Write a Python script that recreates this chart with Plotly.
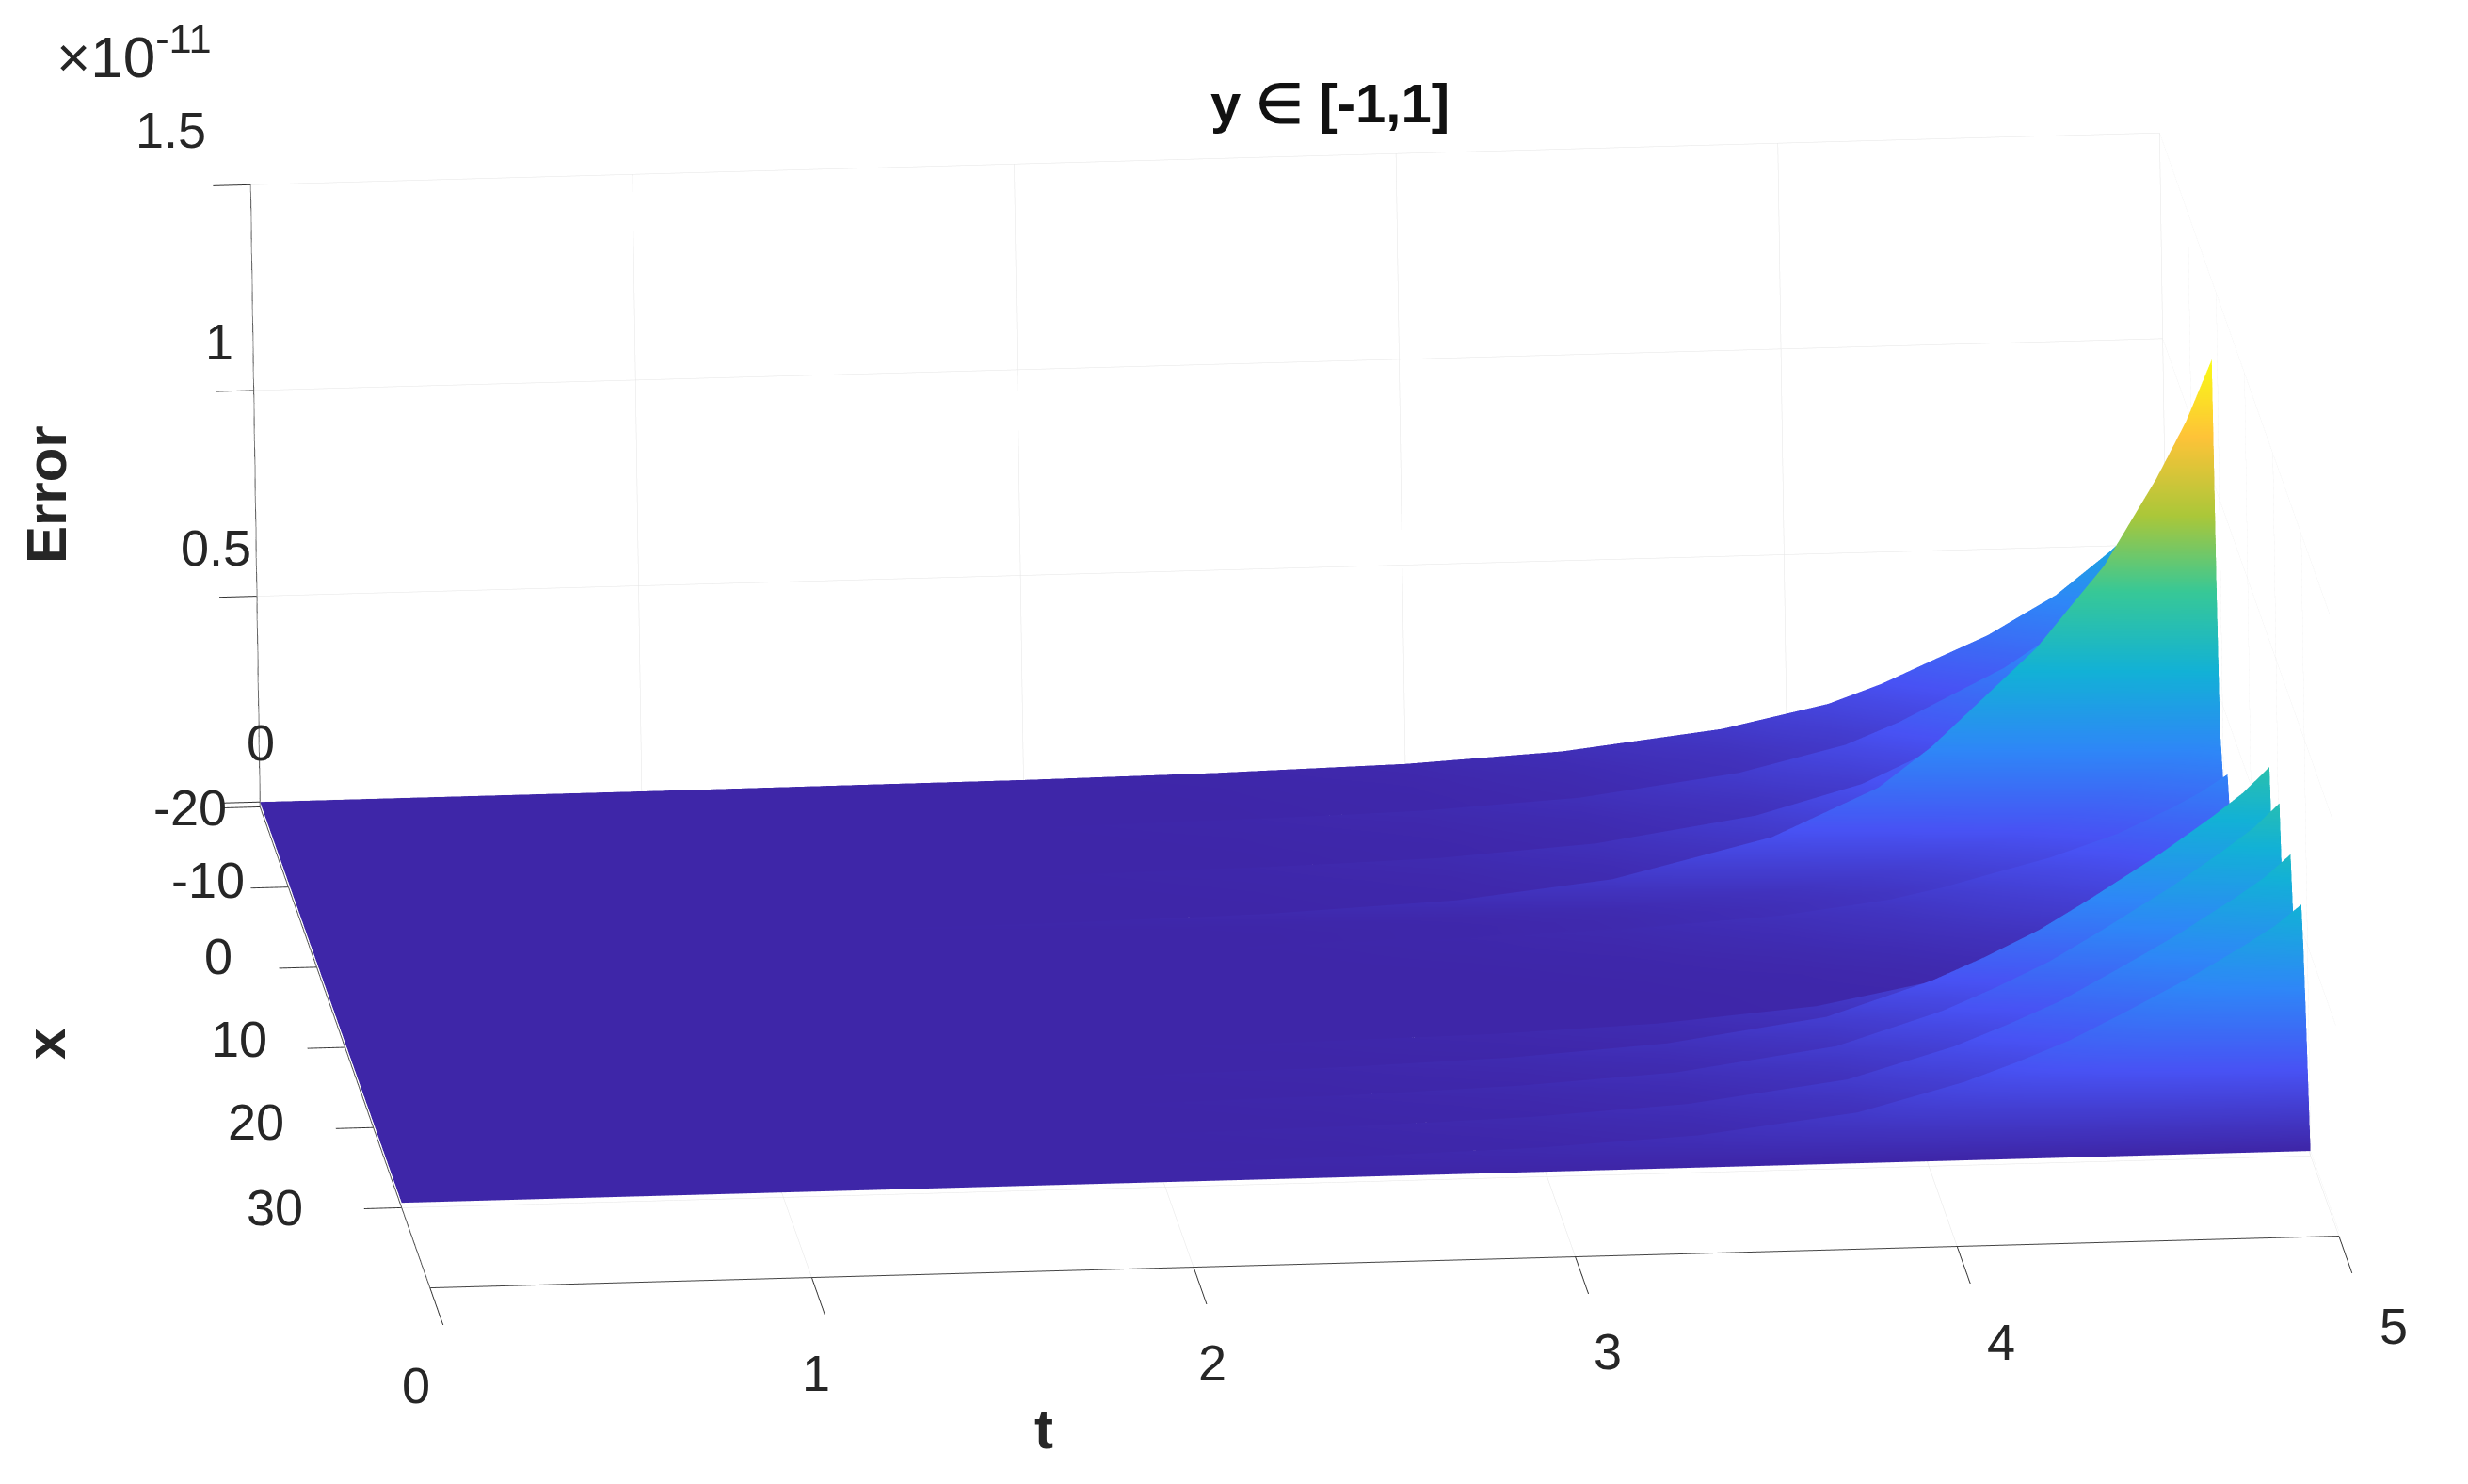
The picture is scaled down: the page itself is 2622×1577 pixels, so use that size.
import numpy as np
import plotly.graph_objects as go

t_vals=[0,1,2,2.5,3,3.41,3.83,4.11,4.25,4.39,4.53,4.62,4.71,4.78,4.85,4.93,5]
x_vals=[-20,-19,-18,-16,-14.5,-14,-13,-12,-10,-8.5,-8,-7,-6,-4,-2.5,-2,-1.5,-1,0,1,1.5,2,3,5,7,9,13,13.5,14.5,16,16.5,17,17.5,18.5,20,20.5,21,22,23.8,24.3,25,26,27.5,28,28.5,29,29.5,30]
# Error (in units of 1e-11): one row per t value, one column per x value
z_by_t=[
[0]*48,
[.0006,.0005,.0004,.0003,.0003,.0007,.0006,.0004,.0003,.0003,.0008,.0006,.0005,.0003,.0003,.0013,.0008,.0004,.0003,.0003,.0004,.0003,.0002,.0001,.0001,.0001,.0000,.0004,.0003,.0001,.0001,.0007,.0005,.0004,.0002,.0007,.0005,.0004,.0002,.0006,.0005,.0003,.0002,.0006,.0005,.0003,.0002,0],
[.0031,.0025,.002,.0015,.0013,.0035,.0028,.0021,.0015,.0013,.004,.0031,.0024,.0016,.0013,.0065,.0038,.0021,.0015,.0014,.0018,.0015,.0012,.0007,.0004,.0003,.0002,.0024,.0017,.0008,.0007,.0041,.0031,.0022,.0013,.004,.003,.0022,.0013,.0037,.0028,.002,.0013,.0034,.0028,.002,.001,0],
[.0074,.006,.0048,.0036,.0031,.0084,.0066,.005,.0036,.003,.0096,.0074,.0058,.0038,.0031,.0156,.009,.005,.0036,.0034,.0043,.0036,.0029,.0017,.001,.0006,.0005,.006,.0042,.0021,.0018,.0102,.0078,.0054,.0033,.0099,.0075,.0054,.0033,.0092,.0069,.005,.0033,.0084,.0071,.005,.0026,0],
[.017,.014,.011,.008,.007,.02,.015,.012,.008,.007,.022,.017,.013,.009,.007,.036,.021,.012,.008,.008,.010,.008,.007,.004,.002,.001,.001,.014,.010,.005,.004,.024,.019,.013,.008,.024,.018,.013,.008,.022,.017,.012,.008,.020,.017,.012,.006,0],
[.037,.030,.024,.018,.015,.041,.032,.025,.018,.015,.047,.037,.028,.019,.015,.077,.044,.025,.018,.017,.021,.018,.014,.008,.005,.003,.002,.028,.020,.010,.008,.048,.036,.025,.015,.046,.035,.025,.015,.043,.032,.023,.015,.039,.033,.023,.012,0],
[.081,.065,.052,.039,.034,.091,.072,.055,.039,.033,.104,.081,.062,.042,.034,.169,.098,.055,.039,.036,.047,.039,.031,.018,.010,.007,.005,.060,.042,.021,.018,.102,.078,.054,.033,.099,.075,.054,.033,.092,.069,.050,.033,.084,.071,.050,.026,0],
[.135,.109,.087,.065,.056,.152,.119,.091,.065,.054,.174,.135,.104,.069,.056,.282,.163,.091,.065,.061,.078,.065,.052,.030,.017,.011,.008,.108,.076,.038,.032,.184,.140,.097,.059,.178,.135,.097,.059,.165,.124,.089,.059,.151,.127,.089,.046,0],
[.180,.145,.116,.087,.075,.203,.160,.122,.087,.073,.232,.180,.139,.093,.075,.377,.218,.122,.087,.081,.104,.087,.070,.041,.023,.015,.011,.140,.098,.049,.042,.238,.182,.126,.077,.231,.175,.126,.077,.214,.161,.116,.077,.196,.165,.116,.060,0],
[.236,.190,.152,.114,.099,.266,.209,.160,.114,.095,.304,.236,.182,.122,.099,.494,.285,.160,.114,.106,.137,.114,.091,.053,.030,.019,.013,.176,.123,.062,.053,.299,.229,.158,.097,.290,.220,.158,.097,.268,.202,.145,.097,.246,.207,.145,.075,0],
[.291,.235,.188,.141,.122,.329,.259,.197,.141,.118,.376,.291,.226,.150,.122,.611,.353,.197,.141,.132,.169,.141,.113,.066,.038,.024,.017,.220,.154,.077,.066,.374,.286,.198,.121,.363,.275,.198,.121,.336,.253,.182,.121,.308,.259,.182,.094,0],
[.338,.273,.218,.164,.142,.382,.300,.229,.164,.136,.436,.338,.262,.174,.142,.709,.409,.229,.164,.153,.196,.164,.131,.076,.044,.027,.019,.250,.175,.088,.075,.425,.325,.225,.138,.413,.313,.225,.138,.381,.288,.206,.138,.350,.294,.206,.106,0],
[.384,.310,.248,.186,.161,.434,.341,.260,.186,.155,.496,.384,.298,.198,.161,.806,.465,.260,.186,.174,.223,.186,.149,.087,.050,.031,.021,.280,.196,.098,.084,.476,.364,.252,.154,.462,.350,.252,.154,.427,.322,.231,.154,.392,.329,.231,.119,0],
[.434,.350,.280,.210,.182,.490,.385,.294,.210,.175,.560,.434,.336,.224,.182,.910,.525,.294,.210,.196,.252,.210,.168,.098,.056,.035,.023,.306,.214,.107,.092,.520,.398,.275,.168,.505,.383,.275,.168,.467,.352,.252,.168,.428,.360,.252,.130,0],
[.484,.390,.312,.234,.203,.546,.429,.328,.234,.195,.624,.484,.374,.250,.203,1.014,.585,.328,.234,.218,.281,.234,.187,.109,.062,.039,.025,.332,.232,.116,.100,.564,.432,.299,.183,.548,.415,.299,.183,.506,.382,.274,.183,.465,.390,.274,.141,0],
[.549,.443,.354,.266,.230,.620,.487,.372,.266,.221,.708,.549,.425,.283,.230,1.151,.664,.372,.266,.248,.319,.266,.212,.124,.071,.044,.027,.364,.255,.127,.109,.619,.473,.328,.200,.601,.455,.328,.200,.555,.419,.300,.200,.510,.428,.300,.155,0],
[.62,.50,.40,.30,.26,.70,.55,.42,.30,.25,.80,.62,.48,.32,.26,1.30,.75,.42,.30,.28,.36,.30,.24,.14,.08,.05,.03,.40,.28,.14,.12,.68,.52,.36,.22,.66,.50,.36,.22,.61,.46,.33,.22,.56,.47,.33,.17,0],
]
t_ticks=[0,1,2,3,4,5]
x_ticks=[-20,-10,0,10,20,30]
z_ticks=[0,.5,1,1.5]
z_labels=['0','0.5','1','1.5']
parula=[[0,'rgb(62,38,168)'],[.1429,'rgb(72,82,244)'],[.2857,'rgb(46,135,247)'],[.4286,'rgb(18,177,214)'],[.5714,'rgb(55,200,151)'],[.7143,'rgb(171,199,57)'],[.8571,'rgb(254,195,56)'],[1,'rgb(249,251,21)']]

axis=dict(showbackground=False,showgrid=True,gridcolor='#e4e4e4',gridwidth=1,showline=True,linecolor='#444444',linewidth=2,zeroline=False,ticks='outside',ticklen=50,tickwidth=2,tickcolor='#333333',showticklabels=False,title=dict(text=''),showspikes=False)
tf=dict(family='Liberation Sans',size=54,color='#262626')
ann=[]
xs=[(-74,6),(-85,-2),(-104,-7),(-112,-4),(-125,-1),(-135,5)]
for v,(dx,dy) in zip(x_ticks,xs):
    ann.append(dict(x=0,y=v,z=0,text=str(v),showarrow=False,xshift=dx,yshift=-dy,font=tf))
zs=[(1,-63),(-43,-52),(-37,-52),(-85,-58)]
for v,l,(dx,dy) in zip(z_ticks,z_labels,zs):
    ann.append(dict(x=0,y=-20,z=v,text=l,showarrow=False,xshift=dx,yshift=-dy,font=tf))
ts=[(-15,109),(5,107),(20,107),(34,106),(47,107),(58,101)]
for v,(dx,dy) in zip(t_ticks,ts):
    ann.append(dict(x=v,y=40,z=0,text=str(v),showarrow=False,xshift=dx,yshift=-dy,font=tf))

fig=go.Figure(go.Surface(x=t_vals,y=x_vals,z=np.array(z_by_t).T,colorscale=parula,cmin=0,cmax=1.30,showscale=False,lighting=dict(ambient=1,diffuse=0,specular=0,roughness=1,fresnel=0),hoverinfo='skip'))
def label(text,px,py,size,angle=0,color='#262626'):
    return dict(text=text,x=px/2622,y=1-py/1577,xref='paper',yref='paper',xanchor='center',yanchor='middle',textangle=angle,showarrow=False,font=dict(family='Liberation Sans',size=size,color=color))
fig.update_layout(width=2622,height=1577,margin=dict(l=0,r=0,t=0,b=0),paper_bgcolor='white',
 scene=dict(domain=dict(x=[0,1],y=[0,1]),aspectmode='manual',aspectratio=dict(x=2.578,y=3.452,z=.854),
  xaxis=dict(axis,range=[0,5],tickvals=t_ticks,ticklen=40),
  yaxis=dict(axis,range=[40,-20],tickvals=x_ticks,ticklen=210),
  zaxis=dict(axis,range=[-.012,1.5],tickvals=z_ticks,ticklen=20),
  annotations=ann,
  camera=dict(projection=dict(type='orthographic'),eye=dict(x=-.2812,y=-3.279,z=.5812),center=dict(x=-.073,y=-.0048,z=-.0508),up=dict(x=.0271,y=.1877,z=.9814))),
 annotations=[
  label('<b>y ∈ [-1,1]</b>',1405,101,58,color='#111111'),
  label('×10<sup>-11</sup>',134,48,62),
  label('<b>Error</b>',42,518,60,-90),
  label('<b>x</b>',40,1102,60,-90),
  label('<b>t</b>',1101,1510,60),
 ])
fig.write_html('out.html')
